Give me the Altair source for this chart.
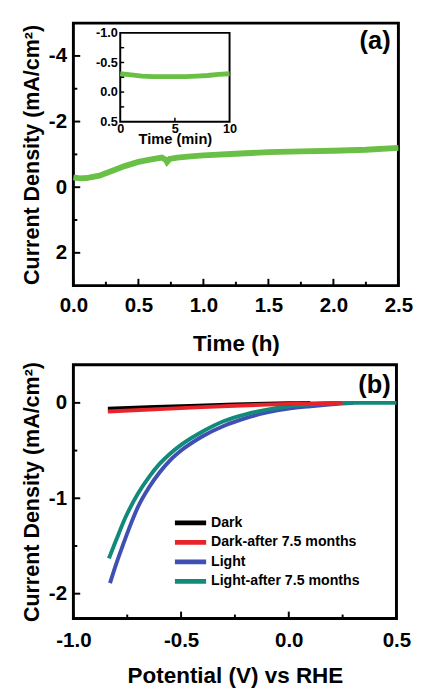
import altair as alt
import pandas as pd

FONT = "Liberation Sans"

# ---------------- Panel (a): stability over time ----------------
time_h = [0, 0.05, 0.1, 0.2, 0.3, 0.4, 0.5, 0.6, 0.68, 0.71, 0.72, 0.74, 0.8, 0.9,
          1.0, 1.25, 1.5, 1.75, 2.0, 2.25, 2.5]
current_a = [-0.3, -0.27, -0.28, -0.35, -0.5, -0.65, -0.77, -0.85, -0.9, -0.84, -0.77,
             -0.86, -0.9, -0.94, -0.97, -1.02, -1.07, -1.09, -1.11, -1.14, -1.2]

# inset
time_min = [0, 1, 2, 3, 4, 5, 6, 7, 8, 9, 10]
current_inset = [-0.31, -0.29, -0.27, -0.26, -0.26, -0.26, -0.26, -0.27, -0.28, -0.3, -0.31]

# ---------------- Panel (b): LSV curves ----------------
series_names = ["Dark", "Dark-after 7.5 months", "Light", "Light-after 7.5 months"]
series_colors = ["#000000", "#e8242a", "#3f4fb3", "#128a7a"]

v_dark = [-0.84, -0.5, -0.25, 0.0, 0.1]
j_dark = [-0.06, -0.035, -0.017, -0.004, 0.0]
v_dark_after = [-0.84, -0.5, -0.25, 0.0, 0.25]
j_dark_after = [-0.09, -0.055, -0.03, -0.01, 0.0]
v_light = [-0.83, -0.8, -0.77, -0.73, -0.7, -0.65, -0.6, -0.55, -0.5, -0.4, -0.3, -0.2,
           -0.1, 0.0, 0.1, 0.2, 0.3]
j_light = [-1.89, -1.68, -1.49, -1.25, -1.09, -0.89, -0.73, -0.6, -0.5, -0.35, -0.24,
           -0.16, -0.1, -0.06, -0.035, -0.015, 0.0]
v_light_after = [-0.835, -0.8, -0.76, -0.7, -0.65, -0.6, -0.55, -0.5, -0.4, -0.3, -0.2,
                 -0.1, 0.0, 0.1, 0.2, 0.3, 0.4, 0.5]
j_light_after = [-1.63, -1.43, -1.21, -0.95, -0.78, -0.64, -0.53, -0.44, -0.3, -0.19,
                 -0.12, -0.07, -0.035, -0.015, -0.004, 0.0, 0.0, 0.0]

# axis ticks / domains
a_x_domain = [0, 2.5]
a_y_domain = [-5, 3]
a_x_major = [0, 0.5, 1.0, 1.5, 2.0, 2.5]
a_x_minor = [0.25, 0.75, 1.25, 1.75, 2.25]
a_y_major = [-4, -2, 0, 2]
a_y_minor = [-3, -1, 1]

in_x_domain = [0, 10]
in_y_domain = [-1.0, 0.5]
in_x_labels = [0, 5, 10]
in_x_ticks = [5]
in_y_labels = [-1.0, -0.5, 0.0, 0.5]
in_y_ticks = [-0.75, -0.5, -0.25, 0.0, 0.25]

b_x_domain = [-1.0, 0.5]
b_y_domain = [-2.26, 0.4]
b_x_major = [-1.0, -0.5, 0.0, 0.5]
b_x_minor = [-0.75, -0.25, 0.25]
b_y_major = [-2, -1, 0]
b_y_minor = [-1.5, -0.5]

W_A, H_A = 333, 269
W_B, H_B = 331, 260
MAJ, MIN = 7, 4

# inset placement inside panel (a) plot area (pixels)
IN_X_RANGE = [48, 160]
IN_Y_RANGE = [10, 101]

hy = "replace(format(datum.value, '{f}'), '\u2212', '-')"


def inward_ticks(field, values, scale, length, orient, plot_h):
    df = pd.DataFrame({field: values})
    if orient == "x":
        return alt.Chart(df).mark_rule(color="black", strokeWidth=2).encode(
            x=alt.X(f"{field}:Q", scale=scale),
            y=alt.value(plot_h - length), y2=alt.value(plot_h))
    return alt.Chart(df).mark_rule(color="black", strokeWidth=2).encode(
        y=alt.Y(f"{field}:Q", scale=scale),
        x=alt.value(0), x2=alt.value(length))


# ---- panel (a) main layer
a_xs = alt.Scale(domain=a_x_domain, nice=False, zero=False)
a_ys = alt.Scale(domain=a_y_domain, reverse=True, nice=False, zero=False)
df_a = pd.DataFrame({"t": time_h, "J": current_a})

main_line = alt.Chart(df_a).mark_line(color="#6abf46", strokeWidth=6).encode(
    x=alt.X("t:Q", scale=a_xs,
            axis=alt.Axis(values=a_x_major, labelExpr=hy.format(f=".1f"), title="Time (h)",
                          ticks=False, domain=False, grid=False, labelFlush=False,
                          labelPadding=9, titlePadding=18, titleFontSize=23)),
    y=alt.Y("J:Q", scale=a_ys,
            axis=alt.Axis(values=a_y_major, labelExpr=hy.format(f="d"),
                          title="Current Density (mA/cm\u00b2)", titleFontSize=22,
                          ticks=False, domain=False, grid=False, labelFlush=False,
                          labelPadding=7, titlePadding=5)),
)
label_a = alt.Chart(pd.DataFrame({"lab": ["(a)"]})).mark_text(
    font=FONT, fontWeight="bold", fontSize=26, align="right", baseline="top", color="black"
).encode(x=alt.value(W_A - 8), y=alt.value(6), text="lab:N")

main_layer = alt.layer(
    main_line,
    inward_ticks("t", a_x_major, a_xs, MAJ, "x", H_A),
    inward_ticks("t", a_x_minor, a_xs, MIN, "x", H_A),
    inward_ticks("J", a_y_major, a_ys, MAJ, "y", H_A),
    inward_ticks("J", a_y_minor, a_ys, MIN, "y", H_A),
    label_a,
)

# ---- inset layer
in_xs = alt.Scale(domain=in_x_domain, range=IN_X_RANGE, nice=False, zero=False)
in_ys = alt.Scale(domain=in_y_domain, range=IN_Y_RANGE, nice=False, zero=False)
in_x_axis = alt.Axis(orient="bottom", offset=-(H_A - IN_Y_RANGE[1]), values=in_x_labels,
                     ticks=False, domain=False, grid=False, labelFlush=False,
                     labelFontSize=13, labelPadding=1, title="Time (min)",
                     titleFontSize=15, titlePadding=-4)
in_y_axis = alt.Axis(orient="left", offset=-IN_X_RANGE[0], values=in_y_labels,
                     labelExpr=hy.format(f=".1f"), ticks=False, domain=False, grid=False,
                     labelFlush=False, labelFontSize=13, labelPadding=3, title=None)

frame_df = pd.DataFrame({"tm": [in_x_domain[0]], "tm2": [in_x_domain[1]],
                         "Jm": [in_y_domain[0]], "Jm2": [in_y_domain[1]]})
inset_frame = alt.Chart(frame_df).mark_rect(
    fill="white", stroke="black", strokeWidth=2).encode(
    x=alt.X("tm:Q", scale=in_xs, axis=in_x_axis), x2="tm2:Q",
    y=alt.Y("Jm:Q", scale=in_ys, axis=in_y_axis), y2="Jm2:Q")
df_in = pd.DataFrame({"tm": time_min, "Jm": current_inset})
inset_line = alt.Chart(df_in).mark_line(color="#6abf46", strokeWidth=5).encode(
    x=alt.X("tm:Q", scale=in_xs, axis=in_x_axis),
    y=alt.Y("Jm:Q", scale=in_ys, axis=in_y_axis))
in_xt = alt.Chart(pd.DataFrame({"tm": in_x_ticks})).mark_rule(color="black", strokeWidth=1.5).encode(
    x=alt.X("tm:Q", scale=in_xs, axis=in_x_axis),
    y=alt.value(IN_Y_RANGE[1] - 4), y2=alt.value(IN_Y_RANGE[1]))
in_yt = alt.Chart(pd.DataFrame({"Jm": in_y_ticks})).mark_rule(color="black", strokeWidth=1.5).encode(
    y=alt.Y("Jm:Q", scale=in_ys, axis=in_y_axis),
    x=alt.value(IN_X_RANGE[0]), x2=alt.value(IN_X_RANGE[0] + 4))

inset_layer = alt.layer(inset_frame, inset_line, in_xt, in_yt)

panel_a = alt.layer(main_layer, inset_layer).resolve_scale(
    x="independent", y="independent").properties(width=W_A, height=H_A)

# ---- panel (b)
rows = []
draw_order = [(series_names[2], v_light, j_light),
              (series_names[3], v_light_after, j_light_after),
              (series_names[0], v_dark, j_dark),
              (series_names[1], v_dark_after, j_dark_after)]
for name, vs, js in draw_order:
    for v, j in zip(vs, js):
        rows.append({"series": name, "V": v, "J": j})
df_b = pd.DataFrame(rows)

b_xs = alt.Scale(domain=b_x_domain, nice=False, zero=False)
b_ys = alt.Scale(domain=b_y_domain, nice=False, zero=False)

lines_b = alt.Chart(df_b).mark_line(strokeWidth=4, interpolate="monotone").encode(
    x=alt.X("V:Q", scale=b_xs,
            axis=alt.Axis(values=b_x_major, labelExpr=hy.format(f=".1f"),
                          title="Potential (V) vs RHE", ticks=False, domain=False,
                          grid=False, labelFlush=False, labelPadding=12, titlePadding=15,
                          titleFontSize=23)),
    y=alt.Y("J:Q", scale=b_ys,
            axis=alt.Axis(values=b_y_major, labelExpr=hy.format(f="d"),
                          title="Current Density (mA/cm\u00b2)", titleFontSize=22,
                          ticks=False, domain=False,
                          grid=False, labelFlush=False, labelPadding=7, titlePadding=5)),
    color=alt.Color("series:N", scale=alt.Scale(domain=series_names, range=series_colors),
                    legend=alt.Legend(title=None, orient="none", legendX=111, legendY=153,
                                      symbolType="M-2.46,0L2.46,0", symbolSize=169,
                                      symbolStrokeWidth=5, labelFont=FONT,
                                      labelFontWeight="bold", labelFontSize=14.5,
                                      labelOffset=12, rowPadding=0, padding=0)),
    order=alt.Order("V:Q"),
)
label_b = alt.Chart(pd.DataFrame({"lab": ["(b)"]})).mark_text(
    font=FONT, fontWeight="bold", fontSize=26, align="right", baseline="top", color="black"
).encode(x=alt.value(W_B - 6), y=alt.value(8), text="lab:N")

panel_b = alt.layer(
    lines_b,
    inward_ticks("V", b_x_major, b_xs, MAJ, "x", H_B),
    inward_ticks("V", b_x_minor, b_xs, MIN, "x", H_B),
    inward_ticks("J", b_y_major, b_ys, MAJ, "y", H_B),
    inward_ticks("J", b_y_minor, b_ys, MIN, "y", H_B),
    label_b,
).properties(width=W_B, height=H_B)

chart = alt.vconcat(panel_a, panel_b, spacing=3).resolve_scale(
    color="independent").resolve_legend(color="independent").properties(
    padding={"left": 11, "top": 5, "right": 0, "bottom": 0}
).configure_view(stroke="black", strokeWidth=3).configure_axis(
    labelFont=FONT, labelFontWeight="bold", labelFontSize=21, labelColor="black",
    titleFont=FONT, titleFontWeight="bold", titleFontSize=22, titleColor="black"
).configure_legend(labelColor="black")

chart.save("out.html", embed_options={"renderer": "svg", "actions": False})
